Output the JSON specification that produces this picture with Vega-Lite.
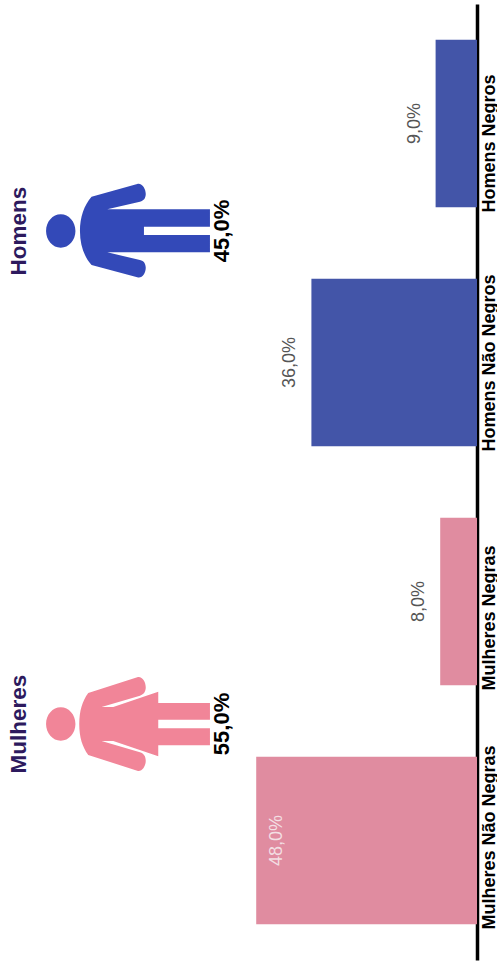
{
  "$schema": "https://vega.github.io/schema/vega-lite/v6.json",
  "width": 477,
  "height": 968,
  "autosize": "none",
  "padding": {"left": 0, "top": 0, "right": 20, "bottom": 0},
  "background": "white",
  "config": {"view": {"stroke": null}, "font": "Liberation Sans"},
  "datasets": {
    "grupos": [
      {"categoria": "Homens Negros", "valor": 9, "rotulo": "9,0%", "genero": "Homens"},
      {"categoria": "Homens Não Negros", "valor": 36, "rotulo": "36,0%", "genero": "Homens"},
      {"categoria": "Mulheres Negras", "valor": 8, "rotulo": "8,0%", "genero": "Mulheres"},
      {"categoria": "Mulheres Não Negras", "valor": 48, "rotulo": "48,0%", "genero": "Mulheres"}
    ],
    "totais": [
      {"genero": "Homens", "total": "45,0%"},
      {"genero": "Mulheres", "total": "55,0%"}
    ]
  },
  "layer": [
    {
      "data": {"name": "grupos"},
      "encoding": {
        "y": {
          "field": "categoria",
          "type": "nominal",
          "sort": null,
          "title": null,
          "scale": {
            "domain": ["Homens Negros", "Homens Não Negros", "Mulheres Negras", "Mulheres Não Negras"],
            "range": [4, 960],
            "paddingInner": 0.3,
            "paddingOuter": 0.15
          },
          "axis": {
            "orient": "right",
            "domainColor": "black",
            "domainWidth": 3.5,
            "ticks": false,
            "labelAngle": 270,
            "labelAlign": "left",
            "labelBaseline": "alphabetic",
            "labelOffset": 89,
            "labelPadding": 17,
            "labelFontSize": 18,
            "labelFontWeight": "bold",
            "labelColor": "black",
            "labelOverlap": false,
            "labelBound": false,
            "labelFlush": false,
            "labelLimit": 400
          }
        },
        "x": {
          "field": "valor",
          "type": "quantitative",
          "title": null,
          "axis": null,
          "scale": {"domain": [0, 103.7], "reverse": true, "nice": false}
        }
      },
      "layer": [
        {
          "mark": {"type": "bar", "orient": "horizontal"},
          "encoding": {
            "color": {
              "field": "genero",
              "type": "nominal",
              "legend": null,
              "scale": {"domain": ["Homens", "Mulheres"], "range": ["#4355a8", "#e08ca0"]}
            }
          }
        },
        {
          "transform": [{"filter": "datum.valor < 40"}],
          "mark": {"type": "text", "angle": 270, "align": "center", "baseline": "middle", "fontSize": 18, "color": "#555555", "dy": -21},
          "encoding": {"text": {"field": "rotulo"}}
        },
        {
          "transform": [{"filter": "datum.valor >= 40"}],
          "mark": {"type": "text", "angle": 270, "align": "center", "baseline": "middle", "fontSize": 18, "color": "#f3dfe3", "dy": 21},
          "encoding": {"text": {"field": "rotulo"}}
        }
      ]
    },
    {
      "data": {"name": "totais"},
      "encoding": {
        "y": {
          "field": "genero",
          "type": "nominal",
          "title": null,
          "axis": null,
          "scale": {"type": "point", "domain": ["Homens", "Mulheres"], "range": [231, 724], "padding": 0}
        }
      },
      "layer": [
        {
          "mark": {"type": "text", "angle": 270, "align": "center", "baseline": "middle", "fontSize": 22.5, "fontWeight": "bold", "color": "#2d1a5e"},
          "encoding": {
            "x": {"datum": "Título", "type": "nominal", "axis": null, "title": null, "scale": {"type": "point", "domain": ["Título", "Ícone", "Percentual"], "range": [18.5, 222], "padding": 0}},
            "text": {"field": "genero"}
          }
        },
        {
          "mark": {"type": "text", "angle": 270, "align": "center", "baseline": "middle", "fontSize": 22, "fontWeight": "bold", "color": "black"},
          "encoding": {
            "x": {"datum": "Percentual", "type": "nominal"},
            "text": {"field": "total"}
          }
        },
        {
          "transform": [{"filter": "datum.genero === 'Homens'"}],
          "mark": {
            "type": "point",
            "filled": true,
            "opacity": 1,
            "size": 4,
            "color": "#3349b8",
            "shape": "M-40.3 0C-40.3 -14 -36 -26 -28.7 -34.3L17 -47C25 -49 30 -31 19.7 -29.3L-13 -21.7L89.7 -21.7L89.7 -4.3L23.7 -4.3L23.7 4L89.7 4L89.7 21.3L-13 21.3L19.7 29C30 31 25 49 17 46.3L-28.7 34C-36 26 -40.3 14 -40.3 0ZM-44.8 0A14.7 16.7 0 1 0 -74.2 0A14.7 16.7 0 1 0 -44.8 0Z"
          },
          "encoding": {"x": {"datum": "Ícone", "type": "nominal"}}
        },
        {
          "transform": [{"filter": "datum.genero === 'Mulheres'"}],
          "mark": {
            "type": "point",
            "filled": true,
            "opacity": 1,
            "size": 4,
            "color": "#f18598",
            "shape": "M-41 0C-41 -13 -38 -23 -32 -31L17 -46.7C25 -49 30 -31 19.7 -28.3L-18.7 -17L-7 -17L38 -32.3L38 -21L89.7 -21L89.7 -4.3L38 -4.3L38 4.3L89.7 4.3L89.7 21.3L38 21.3L38 32.3L-7 17L-18.7 17L19.7 28.3C30 31 25 49 17 46.7L-32 31C-38 23 -41 13 -41 0ZM-44.8 0A14.7 16.7 0 1 0 -74.2 0A14.7 16.7 0 1 0 -44.8 0Z"
          },
          "encoding": {"x": {"datum": "Ícone", "type": "nominal"}}
        }
      ]
    }
  ],
  "resolve": {"scale": {"x": "independent", "y": "independent"}}
}
